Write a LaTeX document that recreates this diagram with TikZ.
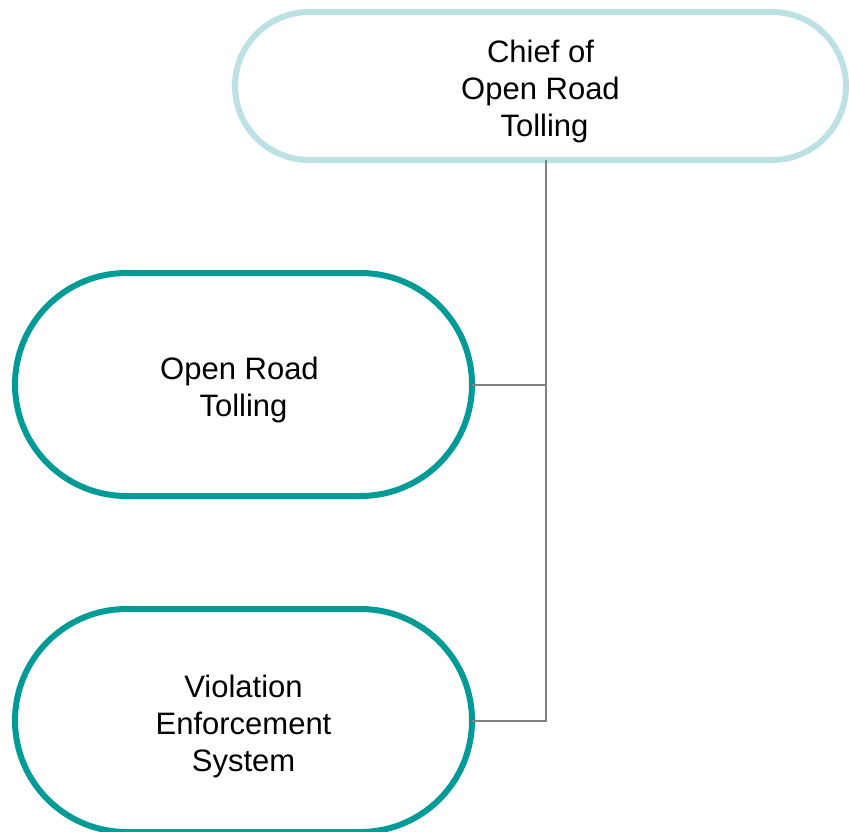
\documentclass[tikz,border=0pt]{standalone}
\usepackage{fontspec}
\setmainfont{Liberation Sans}
\usetikzlibrary{
    positioning,
    shapes.misc % rounded rectangle
}
\definecolor{ortteal}{HTML}{009B97}
\definecolor{paleteal}{HTML}{BBE1E4}
\definecolor{linkgray}{HTML}{808080}
\newcommand{\boxstrut}{\rule{0pt}{34pt}}

\begin{document}
\begin{tikzpicture}[x=1pt,y=-1pt,
    unit/.style={rounded rectangle, draw=ortteal, line width=6pt, fill=white,
        align=center, inner sep=0pt, outer sep=0pt,
        minimum width=457pt, minimum height=223pt,
        font=\fontsize{31}{37}\selectfont},
    headbox/.style={unit, draw=paleteal, minimum width=611pt, minimum height=148pt},
    link/.style={draw=linkgray, line width=2pt}]
    \useasboundingbox (0,0) rectangle (849,831);

    \node[headbox] (chief) at (540.5,86) {\boxstrut Chief of\\Open Road\\\kern8pt Tolling};
    \node[unit] (ort) at (243.5,384.5) {\boxstrut Open Road\kern8pt\\Tolling};
    \node[unit] (ves) [below=113pt of ort] {\boxstrut Violation\\Enforcement\\System};

    \coordinate (trunk) at ([xshift=5.5pt]chief.south);
    \draw[link] (trunk) |- (ves.east);
    \draw[link] (ort.east) -| (trunk);
\end{tikzpicture}
\end{document}
